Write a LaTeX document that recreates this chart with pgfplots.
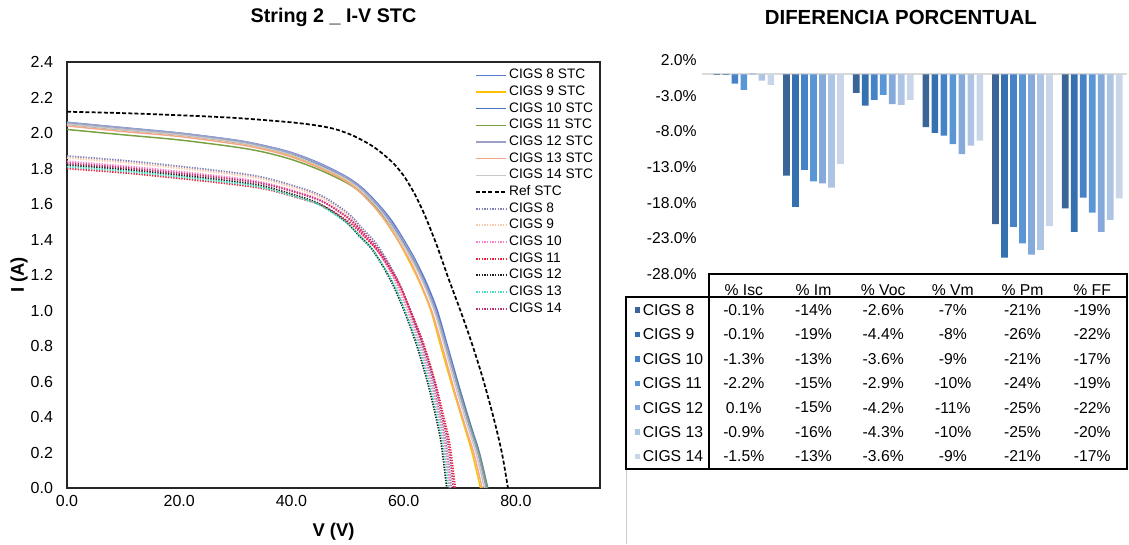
\documentclass[border=0pt]{standalone}
\usepackage{pgfplots}
\pgfplotsset{compat=1.18}
\usepackage{fontspec}
\setmainfont{Liberation Sans}

\definecolor{s8}{HTML}{5B7BD5}
\definecolor{s9}{HTML}{FFC000}
\definecolor{s10}{HTML}{4472C4}
\definecolor{s11}{HTML}{78A040}
\definecolor{s12}{HTML}{9AA0C8}
\definecolor{s13}{HTML}{F4A58A}
\definecolor{s14}{HTML}{C8C8C8}
\definecolor{m8}{HTML}{8080B8}
\definecolor{m9}{HTML}{F8C8A8}
\definecolor{m10}{HTML}{FF80C8}
\definecolor{m11}{HTML}{F0203A}
\definecolor{m12}{HTML}{202020}
\definecolor{m13}{HTML}{40E0C0}
\definecolor{m14}{HTML}{C03070}
\definecolor{b8}{HTML}{3A6596}
\definecolor{b9}{HTML}{3570B0}
\definecolor{b10}{HTML}{4682C8}
\definecolor{b11}{HTML}{5A96D6}
\definecolor{b12}{HTML}{84A9DA}
\definecolor{b13}{HTML}{ADC4E4}
\definecolor{b14}{HTML}{C9D5E8}

\begin{document}
\begin{tikzpicture}
\path[use as bounding box] (0,0) rectangle (846.75pt,-408pt);

% ---------------- left: I-V curves ----------------
\begin{axis}[
  at={(50.25pt,-366pt)}, anchor=south west,
  scale only axis, width=399.75pt, height=319.5pt,
  xmin=0, xmax=95, ymin=0, ymax=2.4,
  xtick={0,20,40,60,80},
  ytick={0,0.2,0.4,0.6,0.8,1.0,1.2,1.4,1.6,1.8,2.0,2.2,2.4},
  tick style={draw=none},
  axis line style={draw=black!85, line width=0.9pt},
  xticklabel style={font=\fontsize{12}{14}\selectfont, /pgf/number format/fixed, /pgf/number format/fixed zerofill, /pgf/number format/precision=1, /pgf/number format/assume math mode=true, yshift=-2.2pt},
  yticklabel style={font=\fontsize{12}{14}\selectfont, /pgf/number format/fixed, /pgf/number format/fixed zerofill, /pgf/number format/precision=1, /pgf/number format/assume math mode=true, xshift=-7pt},
  xlabel={V (V)}, ylabel={I (A)},
  xlabel style={at={(axis description cs:0.5,-0.1033)}, anchor=center, font=\bfseries\fontsize{13.8}{16}\selectfont},
  ylabel style={at={(axis description cs:-0.09,0.5)}, anchor=center, font=\bfseries\fontsize{13.8}{16}\selectfont},
  title={String 2 \_ I-V STC},
  title style={at={(axis description cs:0.5,1.0869)}, anchor=center, font=\bfseries\fontsize{14.8}{17}\selectfont},
  legend cell align=left,
  legend style={at={(1,1)}, anchor=north east, draw=none, fill=none, inner sep=3.5pt,
    font=\fontsize{10.3}{12}\selectfont,
    nodes={inner sep=1.5pt, text height=7.5pt, text depth=2pt}, row sep=0pt},
  legend image code/.code={\draw[#1] (0pt,0pt) -- (22.5pt,0pt);},
  clip=false,
]
\addplot[s8, line width=1.1pt, smooth] coordinates {(0,2.06) (10,2.03) (20,2.00) (30,1.96) (35,1.93) (40,1.89) (45,1.83) (50,1.75) (53,1.68) (56,1.58) (58,1.50) (60,1.40) (62,1.29) (64,1.16) (66,1.00) (68,0.78) (70,0.56) (72,0.35) (73.5,0.20) (75,0)};
\addlegendentry{CIGS 8 STC}
\addplot[s9, line width=1.1pt, smooth] coordinates {(0,2.05) (9.8,2.019) (19.7,1.991) (29.5,1.950) (34.4,1.921) (39.3,1.880) (44.2,1.820) (49.2,1.743) (52.1,1.673) (55.1,1.572) (57.0,1.492) (59.0,1.394) (60.9,1.283) (62.9,1.154) (64.9,0.994) (66.8,0.777) (68.8,0.558) (70.8,0.349) (72.2,0.199) (73.7,0)};
\addlegendentry{CIGS 9 STC}
\addplot[s10, line width=1.1pt, smooth] coordinates {(0,2.05) (9.95,2.019) (20.0,1.991) (29.9,1.950) (34.9,1.921) (39.9,1.880) (44.9,1.820) (49.9,1.743) (52.9,1.673) (55.9,1.572) (57.8,1.492) (59.8,1.394) (61.9,1.283) (63.8,1.154) (65.8,0.994) (67.8,0.777) (69.8,0.558) (71.8,0.349) (73.3,0.199) (74.8,0)};
\addlegendentry{CIGS 10 STC}
\addplot[s11, line width=1.1pt, smooth] coordinates {(0,2.020) (10.0,1.990) (20.0,1.961) (30.0,1.921) (35.0,1.893) (39.9,1.852) (44.9,1.794) (50.0,1.717) (53.0,1.648) (56.0,1.549) (57.9,1.471) (59.9,1.374) (61.9,1.265) (63.9,1.137) (65.9,0.980) (67.9,0.766) (69.9,0.549) (71.9,0.343) (73.4,0.196) (74.9,0)};
\addlegendentry{CIGS 11 STC}
\addplot[s12, line width=1.1pt, smooth] coordinates {(0,2.06) (9.9,2.03) (19.9,2.00) (29.9,1.96) (34.9,1.93) (39.8,1.89) (44.8,1.83) (49.8,1.75) (52.8,1.68) (55.8,1.58) (57.7,1.50) (59.8,1.40) (61.8,1.29) (63.7,1.16) (65.7,1.00) (67.8,0.78) (69.7,0.56) (71.7,0.35) (73.2,0.20) (74.7,0)};
\addlegendentry{CIGS 12 STC}
\addplot[s13, line width=1.1pt, smooth] coordinates {(0,2.040) (9.8,2.009) (19.8,1.981) (29.6,1.940) (34.6,1.911) (39.4,1.871) (44.4,1.812) (49.4,1.734) (52.3,1.665) (55.3,1.565) (57.2,1.485) (59.2,1.387) (61.2,1.277) (63.1,1.149) (65.1,0.989) (67.1,0.773) (69.0,0.555) (71.0,0.347) (72.5,0.198) (74.0,0)};
\addlegendentry{CIGS 13 STC}
\addplot[s14, line width=1.1pt, smooth] coordinates {(0,2.05) (9.9,2.019) (19.9,1.991) (29.8,1.950) (34.7,1.921) (39.7,1.880) (44.6,1.820) (49.6,1.743) (52.6,1.673) (55.6,1.572) (57.5,1.492) (59.5,1.394) (61.5,1.283) (63.5,1.154) (65.5,0.994) (67.5,0.777) (69.4,0.558) (71.4,0.349) (72.9,0.199) (74.4,0)};
\addlegendentry{CIGS 14 STC}
\addplot[black, line width=1.3pt, dash pattern=on 3pt off 1.6pt, smooth] coordinates {(0,2.12) (10,2.112) (20,2.10) (30,2.085) (40,2.06) (45,2.04) (48,2.02) (51,1.985) (54,1.935) (56,1.89) (58,1.835) (59,1.80) (60,1.76) (61,1.71) (62,1.655) (63,1.59) (64,1.52) (66,1.36) (68,1.18) (70,1.01) (72,0.83) (74,0.63) (76,0.40) (77.5,0.20) (78.6,0)};
\addlegendentry{Ref STC}
\addplot[m8, line width=1.4pt, dash pattern=on 1pt off 1pt, smooth] coordinates {(0,1.870) (10.3,1.844) (20.6,1.810) (30.1,1.775) (34.9,1.750) (39.7,1.709) (45.2,1.649) (50.0,1.550) (52.7,1.460) (54.8,1.389) (56.9,1.290) (58.9,1.171) (61.0,1.010) (63.0,0.830) (65.1,0.610) (66.4,0.421) (67.5,0.260) (68.5,0)};
\addlegendentry{CIGS 8}
\addplot[m9, line width=1.4pt, dash pattern=on 1pt off 1pt, smooth] coordinates {(0,1.860) (10.2,1.834) (20.5,1.800) (30.0,1.765) (34.8,1.741) (39.6,1.700) (45.0,1.641) (49.8,1.542) (52.5,1.453) (54.6,1.382) (56.6,1.283) (58.7,1.164) (60.7,1.004) (62.7,0.826) (64.8,0.606) (66.2,0.419) (67.2,0.259) (68.2,0)};
\addlegendentry{CIGS 9}
\addplot[m10, line width=1.4pt, dash pattern=on 1pt off 1pt, smooth] coordinates {(0,1.840) (10.2,1.814) (20.5,1.781) (30.1,1.746) (34.8,1.722) (39.6,1.682) (45.1,1.623) (49.9,1.525) (52.6,1.437) (54.6,1.367) (56.7,1.270) (58.7,1.152) (60.8,0.994) (62.8,0.817) (64.9,0.600) (66.3,0.414) (67.3,0.256) (68.3,0)};
\addlegendentry{CIGS 10}
\addplot[m11, line width=1.4pt, dash pattern=on 1pt off 1pt, smooth] coordinates {(0,1.800) (10.4,1.775) (20.8,1.742) (30.4,1.708) (35.3,1.685) (40.1,1.645) (45.7,1.588) (50.5,1.492) (53.3,1.406) (55.4,1.337) (57.4,1.242) (59.5,1.127) (61.6,0.972) (63.7,0.799) (65.7,0.587) (67.1,0.405) (68.2,0.250) (69.2,0)};
\addlegendentry{CIGS 11}
\addplot[m12, line width=1.4pt, dash pattern=on 1pt off 1pt, smooth] coordinates {(0,1.820) (10.2,1.795) (20.3,1.762) (29.8,1.727) (34.5,1.704) (39.3,1.663) (44.7,1.605) (49.4,1.509) (52.1,1.421) (54.2,1.352) (56.2,1.256) (58.2,1.139) (60.3,0.983) (62.3,0.808) (64.3,0.593) (65.7,0.410) (66.7,0.253) (67.7,0)};
\addlegendentry{CIGS 12}
\addplot[m13, line width=1.4pt, dash pattern=on 1pt off 1pt, smooth] coordinates {(0,1.810) (10.2,1.785) (20.4,1.752) (29.9,1.718) (34.7,1.694) (39.4,1.654) (44.9,1.596) (49.6,1.500) (52.4,1.414) (54.4,1.345) (56.4,1.249) (58.5,1.133) (60.5,0.977) (62.6,0.804) (64.6,0.590) (66.0,0.407) (67.0,0.252) (68.0,0)};
\addlegendentry{CIGS 13}
\addplot[m14, line width=1.4pt, dash pattern=on 1pt off 1pt, smooth] coordinates {(0,1.830) (10.3,1.804) (20.7,1.771) (30.3,1.737) (35.1,1.713) (40.0,1.673) (45.5,1.614) (50.3,1.517) (53.1,1.429) (55.1,1.360) (57.2,1.263) (59.3,1.146) (61.3,0.988) (63.4,0.813) (65.5,0.597) (66.8,0.412) (67.9,0.254) (68.9,0)};
\addlegendentry{CIGS 14}
\end{axis}

% ---------------- right: percentage differences ----------------
\begin{axis}[
  at={(531.75pt,-205.5pt)}, anchor=south west,
  scale only axis, width=313.5pt, height=160.5pt,
  xmin=-0.5, xmax=5.5, ymin=-28, ymax=2,
  ybar=1.75pt, bar width=5pt,
  xtick={0,1,2,3,4,5},
  xticklabels={\% Isc,\% Im,\% Voc,\% Vm,\% Pm,\% FF},
  ytick={2,-3,-8,-13,-18,-23,-28},
  yticklabels={2.0\%,-3.0\%,-8.0\%,-13.0\%,-18.0\%,-23.0\%,-28.0\%},
  axis line style={draw=none}, tick style={draw=none},
  ticklabel style={font=\fontsize{11.8}{14}\selectfont},
  yticklabel style={xshift=-5.75pt},
  xticklabel style={yshift=-0.5pt},
  title={DIFERENCIA PORCENTUAL},
  title style={at={(axis description cs:0.459,1.1636)}, anchor=center, font=\bfseries\fontsize{15.3}{18}\selectfont},
  clip=false,
]
\draw[black!15, line width=1.5pt] (axis cs:-0.6,0) -- (axis cs:5.5,0);
\addplot[fill=b8, draw=none] coordinates {(0,-0.1) (1,-14.2) (2,-2.6) (3,-7.4) (4,-21.0) (5,-18.8)};
\addplot[fill=b9, draw=none] coordinates {(0,-0.1) (1,-18.6) (2,-4.4) (3,-8.2) (4,-25.7) (5,-22.1)};
\addplot[fill=b10, draw=none] coordinates {(0,-1.3) (1,-13.4) (2,-3.6) (3,-8.6) (4,-21.4) (5,-17.3)};
\addplot[fill=b11, draw=none] coordinates {(0,-2.2) (1,-15.0) (2,-2.9) (3,-9.8) (4,-23.7) (5,-19.4)};
\addplot[fill=b12, draw=none] coordinates {(0,0.1) (1,-15.3) (2,-4.2) (3,-11.2) (4,-25.3) (5,-22.1)};
\addplot[fill=b13, draw=none] coordinates {(0,-0.9) (1,-15.9) (2,-4.3) (3,-10.0) (4,-24.6) (5,-20.4)};
\addplot[fill=b14, draw=none] coordinates {(0,-1.5) (1,-12.6) (2,-3.6) (3,-9.3) (4,-21.3) (5,-17.4)};
\end{axis}

% ---------------- data table ----------------
\begin{scope}[x=0.75pt, y=-0.75pt, font=\fontsize{11.8}{14}\selectfont]
\draw[black, line width=1.1pt] (709,274) -- (1127,274) -- (1127,469) -- (626,469) -- (626,297) -- (709,297) -- cycle;
\draw[black, line width=1.1pt] (709,297) -- (709,469);
\draw[black, line width=1.1pt] (709,297) -- (1127,297);
\draw[black!20, line width=0.75pt] (626,470) -- (626,544);
\foreach \lab/\col/\yy/\a/\b/\c/\d/\e/\f in {
  CIGS 8/b8/310/-0.1/-14/-2.6/-7/-21/-19,
  CIGS 9/b9/334.4/-0.1/-19/-4.4/-8/-26/-22,
  CIGS 10/b10/358.8/-1.3/-13/-3.6/-9/-21/-17,
  CIGS 11/b11/383.2/-2.2/-15/-2.9/-10/-24/-19,
  CIGS 12/b12/407.6/0.1/-15/-4.2/-11/-25/-22,
  CIGS 13/b13/432/-0.9/-16/-4.3/-10/-25/-20,
  CIGS 14/b14/456.4/-1.5/-13/-3.6/-9/-21/-17}
{
  \fill[\col] (634.5,\yy-2.7) rectangle (640,\yy+2.7);
  \node[anchor=west, inner sep=0pt] at (642.5,\yy) {\lab};
  \node[inner sep=0pt] at (743.8,\yy) {\a\%};
  \node[inner sep=0pt] at (813.5,\yy) {\b\%};
  \node[inner sep=0pt] at (883.2,\yy) {\c\%};
  \node[inner sep=0pt] at (952.9,\yy) {\d\%};
  \node[inner sep=0pt] at (1022.6,\yy) {\e\%};
  \node[inner sep=0pt] at (1092.3,\yy) {\f\%};
}
\end{scope}
\end{tikzpicture}
\end{document}
